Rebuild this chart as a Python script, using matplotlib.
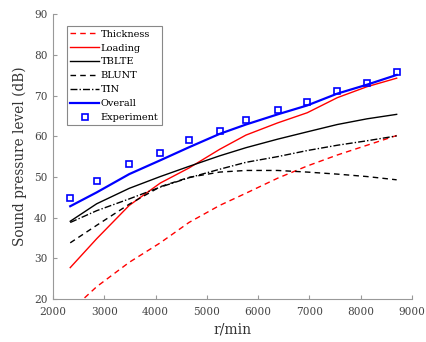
import numpy as np
import matplotlib
matplotlib.use("Agg")
import matplotlib.pyplot as plt

plt.rcParams['font.family'] = ['DejaVu Serif']

# rotational speed (r/min)
rpm = [2337, 2852, 3487, 4092, 4651, 5250, 5762, 6380, 6957, 7542, 8121, 8700]

# sound pressure levels (dB)
thickness = [17.0, 23.0, 29.0, 33.8, 38.8, 43.0, 46.0, 49.7, 52.7, 55.4, 57.8, 60.2]
loading = [27.7, 34.8, 43.0, 48.5, 52.2, 56.8, 60.3, 63.3, 65.8, 69.5, 72.2, 74.3]
tblte = [39.1, 43.4, 47.2, 50.1, 52.6, 55.2, 57.2, 59.3, 61.1, 62.9, 64.3, 65.4]
blunt = [33.8, 38.1, 43.3, 47.6, 49.9, 51.2, 51.6, 51.6, 51.2, 50.7, 50.1, 49.3]
tin = [38.8, 41.7, 44.6, 47.5, 49.8, 51.9, 53.6, 55.0, 56.5, 57.8, 58.9, 60.1]
overall = [42.8, 46.2, 50.7, 54.1, 57.3, 60.6, 62.9, 65.4, 67.6, 70.5, 72.7, 75.1]
experiment = [44.9, 49.1, 53.2, 55.9, 59.0, 61.3, 64.1, 66.4, 68.5, 71.2, 73.0, 75.9]

fig = plt.figure(figsize=(4.27, 3.42), dpi=100)
ax = fig.add_axes([0.124, 0.126, 0.841, 0.832])

ax.plot(rpm, thickness, color='red', ls=(0, (4, 3)), lw=1.0, label='Thickness')
ax.plot(rpm, loading, color='red', ls='-', lw=1.0, label='Loading')
ax.plot(rpm, tblte, color='black', ls='-', lw=1.0, label='TBLTE')
ax.plot(rpm, blunt, color='black', ls=(0, (4, 3)), lw=1.0, label='BLUNT')
ax.plot(rpm, tin, color='black', ls=(0, (5, 1.5, 1, 1.5)), lw=1.0, label='TIN')
ax.plot(rpm, overall, color='blue', ls='-', lw=1.6, label='Overall')
ax.plot(rpm, experiment, ls='none', marker='s', markersize=5, markerfacecolor='none',
        markeredgecolor='blue', markeredgewidth=1.2, label='Experiment')

ax.set_xlim(2000, 9000)
ax.set_ylim(20, 90)
ax.set_xticks(np.arange(2000, 9001, 1000))
ax.set_yticks(np.arange(20, 91, 10))

for s in ['top', 'right']:
    ax.spines[s].set_visible(False)
for s in ['left', 'bottom']:
    ax.spines[s].set_color('#999999')
ax.tick_params(direction='in', length=3, color='#999999', labelsize=7.6, labelcolor='#444444')
ax.tick_params(axis='x', pad=6)
ax.tick_params(axis='y', pad=4)

ax.set_xlabel('r/min', fontsize=10, color='#333333', labelpad=4)
ax.set_ylabel('Sound pressure level (dB)', fontsize=9.8, color='#333333', labelpad=5)

leg = ax.legend(loc='upper left', bbox_to_anchor=(0.025, 0.975), fontsize=7,
                handlelength=3.0, handletextpad=0.15, borderpad=0.35, labelspacing=0.5,
                fancybox=False, edgecolor='#888888', framealpha=1)
leg.get_frame().set_linewidth(0.8)

fig.savefig('out.png', dpi=100)
